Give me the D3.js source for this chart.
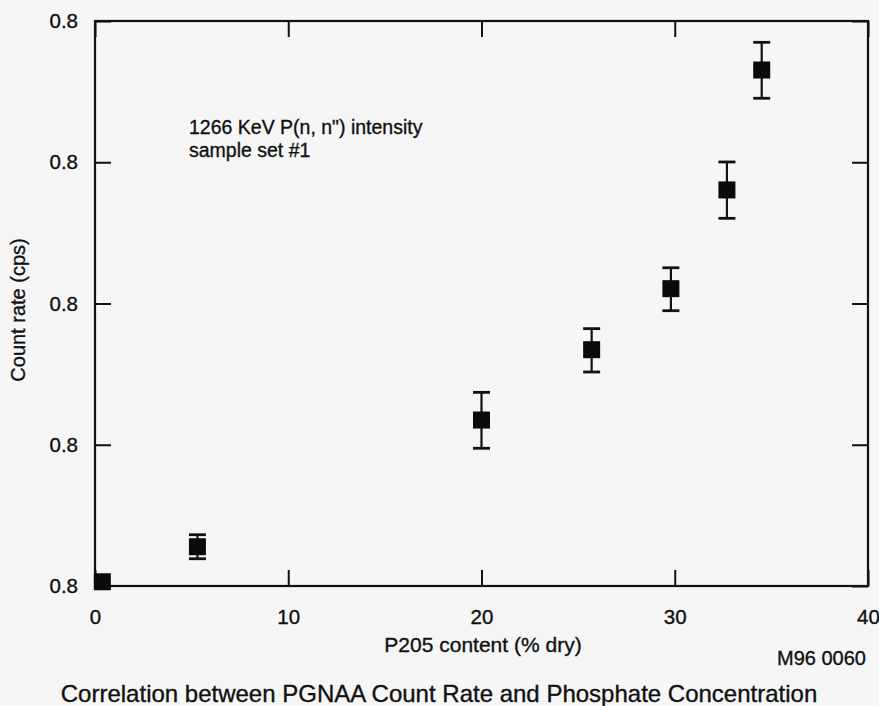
<!DOCTYPE html>
<html>
<head>
<meta charset="utf-8">
<script src="https://cdn.jsdelivr.net/npm/d3@7"></script>
<style>
  html, body { margin: 0; padding: 0; background: #f6f6f6; }
  svg { display: block; }
  text { font-family: "Liberation Sans", Arial, Helvetica, sans-serif; fill: #111; stroke: #111; stroke-width: 0.35px; }
</style>
</head>
<body>
<svg id="chart" width="879" height="706"></svg>
<script>
// P2O5 content (% dry) of each sample
const p2o5 = [0.38, 5.3, 20.0, 25.7, 29.8, 32.7, 34.5];
// Count rate, in axis-step units
const countRate = [0.03, 0.278, 1.175, 1.673, 2.105, 2.804, 3.653];
// Error bar limits (null = no bar drawn)
const rateLow  = [null, 0.193, 0.975, 1.515, 1.949, 2.603, 3.453];
const rateHigh = [null, 0.363, 1.371, 1.822, 2.253, 3.002, 3.849];

const xTicks = [0, 10, 20, 30, 40];
const xTickLabels = ["0", "10", "20", "30", "40"];
const yTicks = [0, 1, 2, 3, 4];
const yTickLabels = ["0.8", "0.8", "0.8", "0.8", "0.8"];

const svg = d3.select("#chart");
const plotL = 95, plotR = 868, plotT = 21, plotB = 586;

const x = d3.scaleLinear().domain([0, 40]).range([plotL, plotR]);
const y = d3.scaleLinear().domain([0, 4]).range([plotB, plotT]);

const tickLen = 16;

// Bottom axis with labels, ticks pointing into the plot
const gx = svg.append("g")
  .attr("transform", `translate(0,${plotB})`)
  .call(d3.axisBottom(x).tickValues(xTicks)
    .tickFormat((d, i) => xTickLabels[i])
    .tickSize(-tickLen).tickPadding(23));
// Top axis: ticks only
const gxt = svg.append("g")
  .attr("transform", `translate(0,${plotT})`)
  .call(d3.axisTop(x).tickValues(xTicks).tickFormat("").tickSize(-tickLen));
// Left axis with labels
const gy = svg.append("g")
  .attr("transform", `translate(${plotL},0)`)
  .call(d3.axisLeft(y).tickValues(yTicks)
    .tickFormat((d, i) => yTickLabels[i])
    .tickSize(-tickLen).tickPadding(17));
// Right axis: ticks only
const gyr = svg.append("g")
  .attr("transform", `translate(${plotR},0)`)
  .call(d3.axisRight(y).tickValues(yTicks).tickFormat("").tickSize(-tickLen));

[gx, gxt, gy, gyr].forEach(g => {
  g.select(".domain").remove();
  g.selectAll(".tick line").attr("stroke", "#111").attr("stroke-width", 2);
  g.selectAll(".tick text")
    .style("font-family", '"Liberation Sans", Arial, Helvetica, sans-serif')
    .style("font-size", "20.5px")
    .attr("fill", "#111");
});

// Plot frame
svg.append("rect")
  .attr("x", plotL).attr("y", plotT)
  .attr("width", plotR - plotL).attr("height", plotB - plotT)
  .attr("fill", "none").attr("stroke", "#111").attr("stroke-width", 2.2);

// Error bars
const pts = p2o5.map((v, i) => ({ x: v, y: countRate[i], lo: rateLow[i], hi: rateHigh[i] }));
const withErr = pts.filter(d => d.lo !== null);
const capW = 17;
const eb = svg.append("g").attr("stroke", "#111");
eb.selectAll("line.stem").data(withErr).join("line")
  .attr("class", "stem")
  .attr("x1", d => x(d.x)).attr("x2", d => x(d.x))
  .attr("y1", d => y(d.lo)).attr("y2", d => y(d.hi))
  .attr("stroke-width", 2.2);
eb.selectAll("line.capHi").data(withErr).join("line")
  .attr("class", "capHi")
  .attr("x1", d => x(d.x) - capW / 2).attr("x2", d => x(d.x) + capW / 2)
  .attr("y1", d => y(d.hi)).attr("y2", d => y(d.hi))
  .attr("stroke-width", 2.8);
eb.selectAll("line.capLo").data(withErr).join("line")
  .attr("class", "capLo")
  .attr("x1", d => x(d.x) - capW / 2).attr("x2", d => x(d.x) + capW / 2)
  .attr("y1", d => y(d.lo)).attr("y2", d => y(d.lo))
  .attr("stroke-width", 2.8);

// Square markers
const sq = 17;
svg.append("g").selectAll("rect").data(pts).join("rect")
  .attr("x", d => x(d.x) - sq / 2).attr("y", d => y(d.y) - sq / 2)
  .attr("width", sq).attr("height", sq)
  .attr("fill", "#0a0a0a");

// Annotation
const note = svg.append("text").style("font-size", "19.5px");
note.append("tspan").attr("x", 189).attr("y", 134).text('1266 KeV P(n, n") intensity');
note.append("tspan").attr("x", 189).attr("y", 157).text("sample set #1");

// Axis titles
svg.append("text")
  .attr("transform", "translate(25,310) rotate(-90)")
  .attr("text-anchor", "middle")
  .style("font-size", "20px")
  .text("Count rate (cps)");
svg.append("text")
  .attr("x", 483).attr("y", 652)
  .attr("text-anchor", "middle")
  .style("font-size", "21px")
  .text("P205 content (% dry)");
svg.append("text")
  .attr("x", 866).attr("y", 665)
  .attr("text-anchor", "end")
  .style("font-size", "20px")
  .text("M96 0060");

// Caption
svg.append("text")
  .attr("x", 439).attr("y", 702)
  .attr("text-anchor", "middle")
  .style("font-size", "24px")
  .text("Correlation between PGNAA Count Rate and Phosphate Concentration");
</script>
</body>
</html>
